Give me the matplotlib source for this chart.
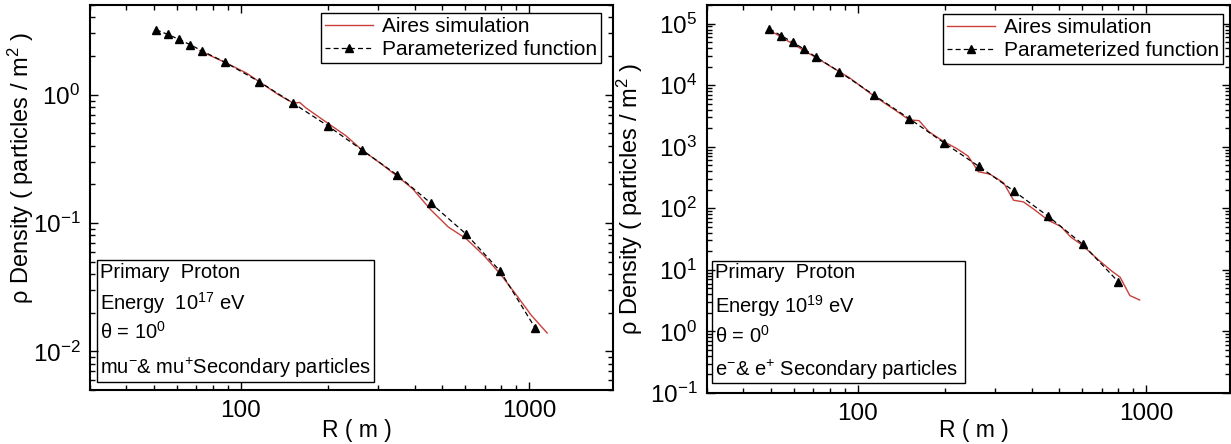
import matplotlib.pyplot as plt
from matplotlib.ticker import LogLocator, NullFormatter
from matplotlib.patches import Rectangle

plt.rcParams['font.family'] = ['Liberation Sans', 'DejaVu Sans']
plt.rcParams['mathtext.fontset'] = 'custom'
plt.rcParams['mathtext.rm'] = 'Liberation Sans'
plt.rcParams['mathtext.it'] = 'Liberation Sans:italic'
plt.rcParams['mathtext.bf'] = 'Liberation Sans:bold'

# left panel: muons, 10^17 eV, theta = 10 deg
mu_r_fit = [50.8, 55.8, 61, 66.8, 73.2, 88.1, 116, 152, 200, 263, 348, 457, 604, 794, 1048]
mu_rho_fit = [3.21, 2.95, 2.70, 2.45, 2.20, 1.79, 1.26, 0.856, 0.573, 0.371, 0.237, 0.142, 0.082, 0.042, 0.0152]
mu_r_sim = [72, 88, 104.8, 116, 135, 152, 160, 168, 200, 231, 263, 306, 348, 394, 455, 524, 604, 695, 794, 895, 1016, 1153]
mu_rho_sim = [2.2, 1.79, 1.47, 1.26, 1.0, 0.86, 0.87, 0.79, 0.60, 0.48, 0.371, 0.29, 0.232, 0.185, 0.127, 0.093, 0.0755, 0.056, 0.040, 0.0281, 0.0191, 0.0139]
mu_y_exps = [-2, -1, 0]

# right panel: electrons, 10^19 eV, theta = 0 deg
e_r_fit = [49.4, 54.2, 59.5, 65.2, 71.6, 86.3, 113.4, 150.7, 198.7, 262, 346.6, 457, 601, 798]
e_rho_fit = [81900, 63700, 49600, 38200, 28600, 16500, 6950, 2860, 1160, 484, 192, 74, 26.2, 6.46]
e_r_sim = [49.4, 71.6, 93.9, 113, 137, 150.7, 163, 176, 198.7, 219.5, 241, 262, 287, 320, 346.6, 375, 412, 457, 505, 547, 601, 681, 760, 811, 877, 948]
e_rho_sim = [78000, 28000, 13000, 6800, 3720, 2720, 2650, 1760, 1210, 940, 705, 391, 358, 259, 135, 127, 92.7, 63.7, 50.9, 34.1, 25, 14.6, 9.5, 7.6, 3.82, 3.24]
e_y_exps = [-1, 0, 1, 2, 3, 4, 5]

x_ticks = [100, 1000]
x_tick_labels = ['100', '1000']
legend_labels = ['Aires simulation', 'Parameterized function']
mu_box_lines = ['Primary  Proton', 'Energy  10$^{17}$ eV', '\u03b8 = 10$^{0}$', 'mu$^{-}$& mu$^{+}$Secondary particles']
e_box_lines = ['Primary  Proton', 'Energy 10$^{19}$ eV', '\u03b8 = 0$^{0}$', 'e$^{-}$& e$^{+}$ Secondary particles']

W, H = 1231, 444
fig = plt.figure(figsize=(W / 100, H / 100), dpi=100)


def add_panel(x0, x1, top, bottom, ylim, y_exps, r_sim, rho_sim, r_fit, rho_fit,
              box, box_lines, line_y, ylabel_x, ylabel_y):
    ax = fig.add_axes([x0 / W, (H - bottom) / H, (x1 - x0) / W, (bottom - top) / H])
    ax.set_xscale('log')
    ax.set_yscale('log')
    ax.plot(r_sim, rho_sim, color='#c8403c', lw=1.0, label=legend_labels[0])
    ax.plot(r_fit, rho_fit, color='black', ls='--', dashes=(4, 2.5), lw=0.9,
            marker='^', ms=6, label=legend_labels[1])
    ax.set_xlim(30, 1950)
    ax.set_ylim(*ylim)

    ax.set_xticks(x_ticks, x_tick_labels)
    ax.set_yticks([10.0 ** k for k in y_exps], ['$10^{%d}$' % k for k in y_exps])
    ax.yaxis.set_minor_locator(LogLocator(base=10, subs=range(2, 10), numticks=20))
    ax.xaxis.set_minor_formatter(NullFormatter())
    ax.yaxis.set_minor_formatter(NullFormatter())
    ax.tick_params(which='both', direction='in', top=True, right=True, width=1)
    ax.tick_params(which='major', length=6, labelsize=17.5)
    ax.tick_params(axis='y', which='major', pad=7)
    ax.tick_params(axis='x', which='major', pad=7)
    ax.tick_params(which='minor', length=3.5)
    for s in ax.spines.values():
        s.set_linewidth(1.5)

    w = x1 - x0
    h = bottom - top
    leg = ax.legend(loc='upper right', bbox_to_anchor=((box[0] - x0) / w, 1 - (box[1] - top) / h),
                    borderaxespad=0, fontsize=15, numpoints=1, handlelength=2.3,
                    handletextpad=0.4, labelspacing=0.2, borderpad=0.2,
                    fancybox=False, framealpha=1, edgecolor='black')
    leg.get_frame().set_linewidth(1.0)

    bx0, by0, bx1, by1 = box[2:]
    ax.add_patch(Rectangle(((bx0 - x0) / w, 1 - (by1 - top) / h), (bx1 - bx0) / w, (by1 - by0) / h,
                           transform=ax.transAxes, fill=False, edgecolor='black', lw=1.0))
    for txt, yy in zip(box_lines, line_y):
        ax.text((bx0 + 3 - x0) / w, 1 - (yy - top) / h, txt, transform=ax.transAxes,
                fontsize=14.5, va='center', ha='left')

    fig.text(ylabel_x / W, 1 - ylabel_y / H, '\u03c1 Density ( particles / m$^{2}$ )',
             rotation=90, ha='center', va='center', fontsize=17)
    fig.text((x0 + 0.5 * w + 5) / W, 1 - 430 / H, 'R ( m )', ha='center', va='center', fontsize=16.5)
    return ax


add_panel(90, 613, 5, 390, (0.005, 5), mu_y_exps, mu_r_sim, mu_rho_sim, mu_r_fit, mu_rho_fit,
          (601, 13, 97, 260, 374, 382), mu_box_lines, [273, 303, 332, 368], 21, 168)
add_panel(707, 1230, 5, 393, (0.1, 2e5), e_y_exps, e_r_sim, e_rho_sim, e_r_fit, e_rho_fit,
          (1223, 14, 712, 261, 965, 383), e_box_lines, [273, 306, 336, 370], 630, 199)

fig.savefig('out.png', dpi=100)
